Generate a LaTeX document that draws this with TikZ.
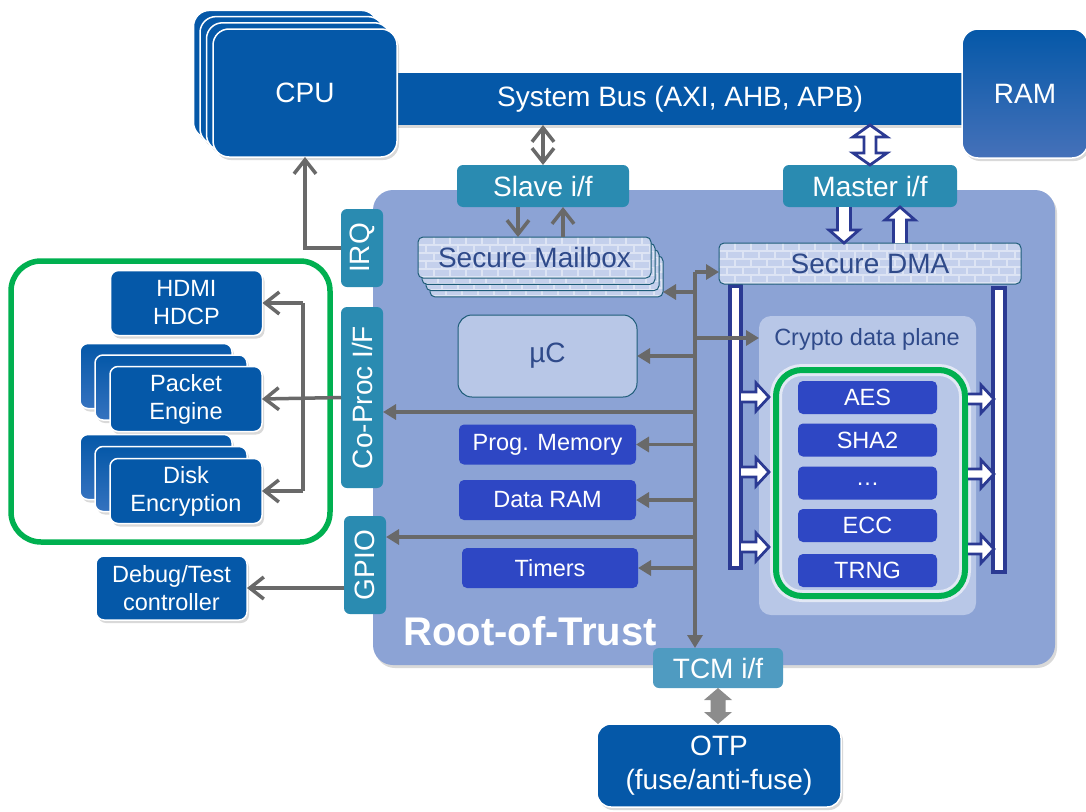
\documentclass[tikz,border=0pt]{standalone}
\usepackage{fontspec}
\setmainfont{Liberation Sans}
\usetikzlibrary{arrows.meta,shadows}
\definecolor{dblue}{HTML}{0558A8}
\definecolor{ifteal}{HTML}{2A8BB1}
\definecolor{rotbg}{HTML}{8CA3D5}
\definecolor{lightp}{HTML}{B8C7E7}
\definecolor{cblue}{HTML}{2E47C4}
\definecolor{navy}{HTML}{2B3A93}
\definecolor{agray}{HTML}{696969}
\definecolor{bgray}{HTML}{8C8C8C}
\definecolor{mygreen}{HTML}{00B050}
\definecolor{txtblue}{HTML}{2F4A8A}
\definecolor{tcmteal}{HTML}{4F9BC1}
\definecolor{brickbg}{HTML}{C4D0EC}
\definecolor{mortar}{HTML}{DDE4F4}
\definecolor{brdr}{HTML}{1D5C78}
\definecolor{rampale}{HTML}{4571B9}
\definecolor{stackpale}{HTML}{3572BF}

\newcommand\blockarrow[6]{%
  \begin{scope}[shift={(#1)},rotate=#2]
    \filldraw[hollow] (0,-#4) -- (#3-#6,-#4) -- (#3-#6,-#5) -- (#3,0) -- (#3-#6,#5) -- (#3-#6,#4) -- (0,#4);
  \end{scope}}

\tikzset{
  f28/.style={font=\fontsize{28}{34}\selectfont},
  f24/.style={font=\fontsize{23.5}{28}\selectfont},
  bx/.style={rectangle, inner sep=0pt, outer sep=0pt, align=center, text=white},
  shad/.style={drop shadow={opacity=0.3, shadow xshift=2pt, shadow yshift=-3pt}},
  dbox/.style={bx, fill=dblue, draw=white, line width=1.5pt, rounded corners=8pt, shad},
  cpubox/.style={dbox, rounded corners=16pt, minimum width=184pt, minimum height=128pt},
  stackbox/.style={dbox, top color=dblue, bottom color=stackpale, minimum width=152pt, minimum height=65pt},
  frontbox/.style={dbox, minimum width=152pt, minimum height=65pt, f24},
  ifbox/.style={bx, fill=ifteal, rounded corners=6pt, f28},
  item/.style={bx, fill=cblue, rounded corners=5pt, minimum width=139pt, minimum height=33pt, f24},
  memitem/.style={bx, fill=cblue, rounded corners=5pt, minimum width=177pt, minimum height=40pt, f24},
  col/.style={bx, fill=white, draw=navy, line width=4pt},
  hollow/.style={fill=white, draw=navy, line width=2.8pt, line join=miter},
  gline/.style={draw=agray, line width=3.5pt},
  gtri/.style={gline, -{Triangle[length=13pt,width=15pt]}},
  gbarb/.style={gline, -{Straight Barb[length=14pt,width=22pt]}},
  gbarbb/.style={gline, {Straight Barb[length=14pt,width=22pt]}-{Straight Barb[length=14pt,width=22pt]}},
  brick/.style={bx, fill=brickbg, draw=brdr, line width=1pt, rounded corners=5pt, text=txtblue, minimum height=41pt,
    path picture={
      \foreach \r in {1,...,5}{
        \draw[mortar,line width=1.3pt] ([yshift={-\r*8pt}]path picture bounding box.north west) -- ([yshift={-\r*8pt}]path picture bounding box.north east);
      }
      \foreach \r in {0,...,5}{
        \foreach \c in {0,...,20}{
          \draw[mortar,line width=1.3pt] ([xshift={(\c*16+mod(\r,2)*8)*1pt}, yshift={-\r*8pt}]path picture bounding box.north west) -- ++(0pt,-8pt);
        }
      }
    }},
}

\begin{document}
\begin{tikzpicture}[x=1pt,y=-1pt]
\useasboundingbox (0,0) rectangle (1086,811);

% System bus
\node[bx, fill=dblue, minimum width=580pt, minimum height=52pt, shad, f28] (bus) at (680,99) {System Bus (AXI, AHB, APB)};

% CPU stack
\foreach \k in {3,2,1}
  \node[cpubox] (cpu\k) at (305-6.5*\k, 93-6.2*\k) {};
\node[cpubox, f28] (cpu) at (305,93) {CPU};

% RAM
\node[dbox, top color=dblue, bottom color=rampale, rounded corners=16pt, minimum width=126pt, minimum height=129pt, f28] (ram) at (1025,93.5) {RAM};

% Root-of-Trust panel
\node[bx, fill=rotbg, rounded corners=20pt, minimum width=682pt, minimum height=475pt, shad] (rot) at (714,427.5) {};
\node[bx, font=\fontsize{40}{44}\selectfont\bfseries] (rotlabel) at (530,631) {Root-of-Trust};

% interfaces
\node[ifbox, minimum width=172pt, minimum height=42pt] (slave) at (543,186) {Slave i/f};
\node[ifbox, minimum width=174pt, minimum height=42pt] (master) at (870,186) {Master i/f};
\node[ifbox, minimum width=42pt, minimum height=78pt] (irq) at (362,248) {\rotatebox{90}{IRQ}};
\node[ifbox, minimum width=42pt, minimum height=181pt] (coproc) at (362,397.5) {\rotatebox{90}{Co-Proc I/F}};
\node[ifbox, minimum width=42pt, minimum height=98pt] (gpio) at (365,565) {\rotatebox{90}{GPIO}};
\node[ifbox, fill=tcmteal, minimum width=130pt, minimum height=40pt] (tcm) at (718,668) {TCM i/f};

% Secure Mailbox
\foreach \k in {3,2,1}
  \node[brick, minimum width=233pt] (mb\k) at (534.5+4*\k, 257.5+6.3*\k) {};
\node[brick, minimum width=233pt, f28] (mbx) at (534.5,257.5) {Secure Mailbox};

% DMA columns and DMA
\node[col, minimum width=11pt, minimum height=282pt] (lcol) at (735.5,427) {};
\node[col, minimum width=12pt, minimum height=284pt] (rcol) at (999,430) {};
\node[brick, minimum width=302pt, f28] (dma) at (870,263.5) {Secure DMA};

% Crypto data plane
\node[bx, fill=lightp, rounded corners=12pt, minimum width=217pt, minimum height=299pt] (cplane) at (867.5,465.5) {};
\node[bx, text=txtblue, f24] (cdp) at (867,339) {Crypto data plane};
\draw[white, opacity=0.6, line width=12pt, rounded corners=26pt] (776,370) rectangle (965,596);
\draw[mygreen, line width=6pt, rounded corners=26pt] (776,370) rectangle (965,596);
\node[item] (aes) at (867.5,397.5) {AES};
\node[item] (sha) at (867.5,440) {SHA2};
\node[item] (dots) at (867.5,483) {\raisebox{-4pt}{…}};
\node[item] (ecc) at (867.5,525.5) {ECC};
\node[item] (trng) at (867.5,570.5) {TRNG};

% hollow arrows columns <-> crypto
\coordinate (la1) at (741,397); \coordinate (la2) at (741,472); \coordinate (la3) at (741,547);
\coordinate (ra1) at (968,399); \coordinate (ra2) at (968,474); \coordinate (ra3) at (968,549);
\foreach \p in {la1,la2,la3}{\blockarrow{\p}{0}{28}{5}{14}{13}}
\foreach \p in {ra1,ra2,ra3}{\blockarrow{\p}{0}{26}{5}{14}{13}}

% uC and memories
\node[bx, fill=lightp, draw=brdr, line width=1pt, rounded corners=14pt, minimum width=179pt, minimum height=82pt, text=txtblue, f28] (uc) at (547.5,356) {µC};
\node[memitem] (pm) at (547.5,444.5) {Prog. Memory};
\node[memitem] (dr) at (547.5,500) {Data RAM};
\node[memitem, minimum width=176pt] (tm) at (550,568) {Timers};

% OTP
\node[dbox, rounded corners=14pt, minimum width=244pt, minimum height=83pt, f28] (otp) at (719,765.5) {OTP\\(fuse/anti-fuse)};

% left side
\draw[mygreen, line width=5.5pt, rounded corners=30pt] (11,261) rectangle (330,542);
\node[frontbox] (hdmi) at (186.5,303) {HDMI\\HDCP};
\foreach \k in {2,1}
  \node[stackbox] (pk\k) at (186-15*\k, 399-11.5*\k) {};
\node[frontbox] (pkt) at (186,399) {Packet\\Engine};
\foreach \k in {2,1}
  \node[stackbox] (dk\k) at (186-15*\k, 491-12*\k) {};
\node[frontbox] (disk) at (186,491) {Disk\\Encryption};
\node[dbox, minimum width=151pt, minimum height=64pt, f24] (dbg) at (171.5,588) {Debug/Test\\controller};

% bus connections
\draw[gbarbb] (slave.north) -- (slave.north |- bus.south);
\begin{scope}[shift={(master.north)}]
  \filldraw[hollow] (0,0) -- (17,-12) -- (6,-12) -- (6,-28) -- (17,-28) -- (0,-40) -- (-17,-28) -- (-6,-28) -- (-6,-12) -- (-17,-12) -- cycle;
\end{scope}
\blockarrow{[xshift=-26pt]master.south}{-90}{36}{6.5}{15}{13}
\blockarrow{[xshift=30pt]dma.north}{90}{36}{6.5}{15}{13}
\draw[gbarb] ([xshift=-25pt]slave.south) -- ([xshift=-25pt]slave.south |- mbx.north);
\draw[gbarb] ([xshift=20pt]slave.south |- mbx.north) -- ([xshift=20pt]slave.south);

% IRQ to CPU
\draw[gbarb] (irq.west) -| (cpu.south);

% Co-Proc to engines
\coordinate (jx) at (303,303);
\draw[gbarb] (coproc.west) -- (pkt.east);
\draw[gline] (jx |- hdmi.east) -- (jx |- disk.east);
\draw[gbarb] (jx |- hdmi.east) -- (hdmi.east);
\draw[gbarb] (jx |- disk.east) -- (disk.east);

% GPIO to Debug
\draw[gbarb] (gpio.west |- dbg.east) -- (dbg.east);

% internal bus
\coordinate (vtop) at (695,272);
\coordinate (vmb) at (695,292);
\coordinate (vcp) at (695,338);
\coordinate (vco) at (695,412);
\coordinate (vgp) at (695,537);
\draw[gtri] (vtop) -- (vtop |- tcm.north);
\draw[gtri] (vtop) -- (vtop -| dma.west);
\draw[gtri] (vmb) -- (vmb -| mb3.east);
\draw[gtri] (vcp) -- (vcp -| cplane.west);
\draw[gtri] (uc.east -| vtop) -- (uc.east);
\draw[gtri] (vco) -- (vco -| coproc.east);
\draw[gtri] (pm.east -| vtop) -- (pm.east);
\draw[gtri] (dr.east -| vtop) -- (dr.east);
\draw[gtri] (vgp) -- (vgp -| gpio.east);
\draw[gtri] (tm.east -| vtop) -- (tm.east);

% TCM <-> OTP
\begin{scope}[shift={(tcm.south)}]
  \fill[bgray] (0,0) -- (14,12) -- (7.5,12) -- (7.5,24) -- (14,24) -- (0,36) -- (-14,24) -- (-7.5,24) -- (-7.5,12) -- (-14,12) -- cycle;
\end{scope}
\end{tikzpicture}
\end{document}
